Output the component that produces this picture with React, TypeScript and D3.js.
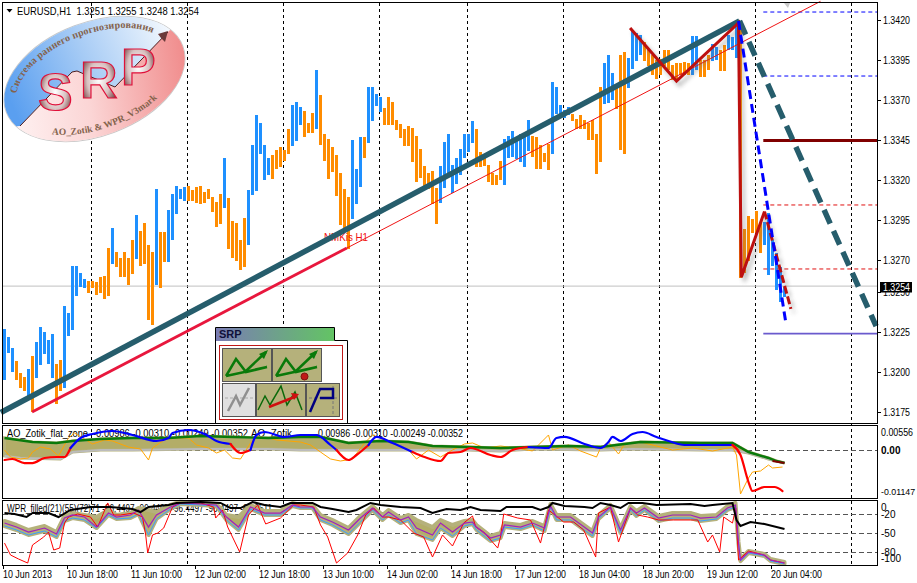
import React from "react";
import * as d3 from "d3";

const W = 917;
const H = 583;

// hourly bodies, 1 bar per hour, leftmost = 10 Jun 2013
const barOpen = [
  1.31953, 1.32122, 1.32003, 1.32072, 1.31997, 1.31972, 1.3184, 1.32103, 1.31965, 1.32047, 1.32115, 1.32053, 1.31965, 1.32053, 1.32078, 1.31903,
  1.32228, 1.32265, 1.32478, 1.32534, 1.32528, 1.32572, 1.32572, 1.32565, 1.32597, 1.32603, 1.32778, 1.32678, 1.32753, 1.32715, 1.32753, 1.32715,
  1.32828, 1.32709, 1.32884, 1.32934, 1.32797, 1.32753, 1.32547, 1.32878, 1.32878, 1.3269, 1.32828, 1.32991, 1.33084, 1.33072, 1.33166, 1.33141,
  1.33159, 1.33166, 1.33128, 1.33147, 1.33097, 1.33065, 1.33116, 1.33028, 1.33091, 1.32947, 1.32934, 1.32828, 1.32966, 1.32797, 1.33109, 1.33134,
  1.33366, 1.33203, 1.33234, 1.33359, 1.33391, 1.33409, 1.33391, 1.33522, 1.33416, 1.33447, 1.33547, 1.33634, 1.33559, 1.33622, 1.33522, 1.33734,
  1.33491, 1.33459, 1.33409, 1.33359, 1.33247, 1.33147, 1.33097, 1.32959, 1.33053, 1.33159, 1.33472, 1.33434, 1.33572, 1.33666, 1.33628, 1.33653,
  1.33722, 1.33691, 1.33578, 1.33553, 1.33522, 1.33541, 1.33528, 1.33478, 1.33397, 1.33291, 1.33247, 1.33259, 1.33153, 1.33059, 1.33153, 1.33234,
  1.33122, 1.33178, 1.33234, 1.33341, 1.33378, 1.33434, 1.33522, 1.33378, 1.33341, 1.33297, 1.33247, 1.33234, 1.33322, 1.33172, 1.33341, 1.33347,
  1.33334, 1.33316, 1.33284, 1.33384, 1.33478, 1.33472, 1.33422, 1.33372, 1.33428, 1.33366, 1.33616, 1.33609, 1.33591, 1.33609, 1.33616, 1.33584,
  1.33609, 1.33578, 1.33559, 1.33578, 1.33491, 1.33784, 1.33678, 1.33684, 1.33703, 1.33803, 1.33984, 1.34003, 1.33778, 1.33897, 1.33947, 1.33984,
  1.34066, 1.34016, 1.33984, 1.33953, 1.33959, 1.34016, 1.34016, 1.33922, 1.33934, 1.33934, 1.33941, 1.33934, 1.33859, 1.33891, 1.33953, 1.33953,
  1.33984, 1.33947, 1.33953, 1.34016, 1.34047, 1.34016, 1.34016, 1.33966, 1.3419, 1.32897, 1.32978, 1.32959, 1.33009, 1.32934, 1.32797, 1.32609,
  1.32665, 1.32516, 1.32441, 1.32472,
];
const barClose = [
  1.32272, 1.32222, 1.32153, 1.31953, 1.31903, 1.31884, 1.32022, 1.31753, 1.3219, 1.32284, 1.32253, 1.32203, 1.3224, 1.31803, 1.31884, 1.32415,
  1.32372, 1.32665, 1.32665, 1.32622, 1.32584, 1.32497, 1.32528, 1.32484, 1.32497, 1.32459, 1.32478, 1.32903, 1.32659, 1.32597, 1.32597, 1.32547,
  1.32615, 1.32984, 1.32665, 1.32678, 1.32328, 1.32297, 1.33147, 1.32528, 1.3269, 1.33015, 1.33116, 1.33166, 1.33147, 1.33159, 1.33072, 1.33072,
  1.33059, 1.33053, 1.33059, 1.33084, 1.33003, 1.32909, 1.32928, 1.33341, 1.32772, 1.32715, 1.32697, 1.3264, 1.32659, 1.33141, 1.33422, 1.33609,
  1.33559, 1.33422, 1.33341, 1.33209, 1.33272, 1.33284, 1.33322, 1.33366, 1.33672, 1.33691, 1.33659, 1.33472, 1.33497, 1.33497, 1.33891, 1.33422,
  1.33322, 1.33209, 1.33253, 1.33103, 1.32922, 1.32878, 1.32772, 1.33453, 1.33272, 1.33472, 1.33341, 1.33784, 1.33784, 1.33741, 1.33722, 1.33547,
  1.33547, 1.33547, 1.33516, 1.33466, 1.33416, 1.33416, 1.33316, 1.33191, 1.33216, 1.33147, 1.33147, 1.33053, 1.32928, 1.33291, 1.33441, 1.33491,
  1.33297, 1.33341, 1.33397, 1.33491, 1.33491, 1.33572, 1.33284, 1.33284, 1.33291, 1.33191, 1.33172, 1.33172, 1.33203, 1.33459, 1.33478, 1.33509,
  1.33459, 1.33491, 1.33491, 1.33578, 1.33347, 1.33272, 1.33272, 1.33316, 1.33266, 1.33816, 1.33784, 1.33672, 1.33641, 1.33659, 1.33572, 1.33522,
  1.33522, 1.33522, 1.33453, 1.33453, 1.33241, 1.33316, 1.33934, 1.33984, 1.33872, 1.33647, 1.33391, 1.33366, 1.33966, 1.3414, 1.34122, 1.34109,
  1.33947, 1.33916, 1.33859, 1.33834, 1.33859, 1.33916, 1.33891, 1.33828, 1.33828, 1.33859, 1.33859, 1.33859, 1.34103, 1.34103, 1.33847, 1.33847,
  1.33891, 1.34053, 1.34034, 1.33884, 1.33884, 1.34109, 1.34097, 1.3419, 1.3259, 1.32622, 1.32697, 1.32872, 1.32872, 1.32747, 1.32941, 1.32997,
  1.32828, 1.32747, 1.32659, 1.32534,
];

const priceTicks = [1.342, 1.3395, 1.337, 1.3345, 1.332, 1.3295, 1.327, 1.325, 1.3225, 1.32, 1.3175];
const dayBars = [22, 46, 70, 94, 116, 140, 164, 188, 212];
const timeTickBars = [0, 16, 32, 48, 64, 80, 96, 112, 128, 144, 160, 176, 192];
const timeLabels = ["10 Jun 2013", "10 Jun 18:00", "11 Jun 10:00", "12 Jun 02:00", "12 Jun 18:00", "13 Jun 10:00", "14 Jun 02:00", "14 Jun 18:00", "17 Jun 12:00", "18 Jun 04:00", "18 Jun 20:00", "19 Jun 12:00", "20 Jun 04:00"];

// drawn objects: [bar, price]
const trendThickBars = [-0.9, 183.75];
const trendThickPrices = [1.3175, 1.34197];
const projectionBars = [183.75, 217.9];
const projectionPrices = [1.34197, 1.3229];
const trendRayBars = [6.9, 85.6, 204];
const trendRayPrices = [1.31753, 1.32778, 1.3432];
const zigzagBars = [156.4, 168, 183.5, 184.2, 190];
const zigzagPrices = [1.34153, 1.33822, 1.34185, 1.32596, 1.33006];
const zigzagTailBars = [190, 196.6];
const zigzagTailPrices = [1.33006, 1.32397];
const blueDashBars = [183.5, 195.4];
const blueDashPrices = [1.34197, 1.323];
const levelStartBar = 189.7;
const levelsBlue = [1.34253, 1.33853];
const levelDarkRed = 1.3345;
const levelsRed = [1.33047, 1.32647];
const levelSlate = 1.32243;
const lastPrice = 1.3254;

// AO panel
const aoGreenBars = [0, 7, 13, 17, 24, 32, 41, 49, 57, 66, 74, 79, 86, 94, 101, 107, 116, 124, 132, 141, 149, 157, 159, 174, 182, 186, 191, 193, 195];
const aoGreen = [0.00286, 0.0019, 0.00167, 0.00214, 0.00262, 0.00286, 0.00286, 0.00333, 0.0031, 0.00286, 0.0031, 0.0031, 0.00167, 0.00214, 0.0019, 0.00095, 0.00071, 0.00048, 0.00071, 0.00095, 0.00071, 0.00167, 0.0019, 0.00167, 0.00167, -0.00048, -0.0019, -0.00262, -0.0031];
const aoGrayBars = [0, 4, 14, 17, 24, 32, 49, 66, 74, 91, 107, 116, 124, 132, 149, 157, 174, 182, 186, 191, 195];
const aoGray = [-0.00143, -0.0019, -0.00214, -0.00048, 0, 0, 0.00024, 0.00024, 0, 0, 0, 0, -0.00024, 0.00024, 0, 0.00024, 0, 0, -0.00071, -0.00214, -0.0031];
const aoMainBars = [0, 2, 5, 7, 10, 13, 15, 16.5, 19, 22, 27, 32, 38, 41, 42, 46, 50, 53, 56.5, 59, 61.5, 63, 65, 70, 74, 78, 81.5, 83, 86, 88, 91, 93, 97, 102, 105, 109, 111, 114, 116.5, 121.5, 124, 127, 131, 136, 138, 140, 145, 149, 151, 152, 154, 157, 159.5, 163, 166, 170, 182, 184, 186, 187, 190, 192.5, 194.5];
const aoMain = [-0.00238, -0.00214, -0.0031, -0.0031, -0.0019, -0.00167, -0.00167, 0.00048, 0.00286, 0.00381, 0.00452, 0.00357, 0.00214, 0.00286, 0.00405, 0.00476, 0.00381, 0.00214, 0.00143, -0.00071, 0, 0.00357, 0.00428, 0.0031, 0.00357, 0.00357, 0.00119, 0, -0.00238, -0.00119, 0.00119, 0.0031, 0.00167, -0.00048, -0.00167, -0.00262, -0.00071, -0.00048, 0.00048, -0.00119, -0.00167, 0, 0.00071, 0.00048, 0.00286, 0.0031, 0.00143, 0.00048, 0.0019, 0.0031, 0.00214, 0.00381, 0.00428, 0.0031, 0.00214, 0.00119, 0.00119, -0.00119, -0.00762, -0.00976, -0.00881, -0.00881, -0.00976];
const aoThinBars = [0, 1.5, 4, 6, 7, 9, 11.5, 13.5, 15, 16, 17.5, 20, 22, 25, 27, 31, 34, 36, 37, 41, 43, 46, 48, 51, 53, 55, 57, 59, 61.5, 63, 66, 68, 74, 76.5, 79, 81.5, 84, 87, 90, 92, 95, 98, 101, 103, 106, 109, 112, 115, 117, 120, 124, 128, 132, 136, 137, 141, 144, 148, 149, 151, 153.5, 155, 159, 163, 167, 172, 177, 182, 183, 184, 186, 187, 189, 191, 192, 194.5];
const aoThin = [0, -0.00167, -0.00214, -0.0019, -0.00048, 0.00071, 0.00024, -0.00143, 0.00119, 0.00286, 0.00405, 0.00262, 0.00143, 0.00238, 0.00214, 0.00071, 0.00024, -0.00238, 0.00048, 0.0031, 0.00286, 0.00286, 0.00119, 0.00048, -0.00071, 0, -0.0019, -0.00214, 0.00167, 0.0031, 0.00286, 0.00238, 0.0019, 0.00119, -0.00048, -0.00214, -0.00262, -0.00214, 0.00167, 0.00357, 0.00238, 0.00119, 0, -0.00214, 0, -0.00167, 0, 0.00143, 0.00167, 0.00048, 0.00095, 0.00048, -0.00024, 0.00357, 0, 0.00119, -0.00024, -0.00167, 0.00048, 0.0019, -0.00095, 0.00143, 0.0019, 0.00095, 0, 0.00048, -0.00024, 0.00071, -0.00119, -0.01047, -0.00666, -0.00524, -0.005, -0.00357, -0.00428, -0.00405];
const aoTailBars = [192, 195];
const aoTail = [-0.00262, -0.0031];

// WPR panel
const wprBlackBars = [0, 2.5, 5.5, 7, 11, 13.5, 16.5, 21.5, 26.5, 32, 34, 36, 41, 43, 49, 54, 56.5, 59, 62, 65, 69, 71.5, 74, 77, 79, 82, 86, 88, 91.5, 94, 99, 104, 107, 110.5, 114, 116.5, 119, 124, 125.5, 132, 134, 136, 137, 140, 145, 147, 149, 151.5, 154, 156, 159.5, 163, 171.5, 175, 177, 182, 183, 184, 186.5, 190, 193, 195];
const wprBlack = [-17.9, -19.4, -24.2, -17.9, -17.9, -24.2, -13.1, -8.4, -8.4, -11.5, -16.3, -8.4, -5.2, -2, -0.5, -2, -10, -10, -0.5, -5.2, -8.4, -2, -2, -2, -8.4, -11.5, -16.3, -13.1, -2, -5.2, -8.4, -10, -17.9, -11.5, -13.1, -8.4, -13.1, -14.7, -8.4, -8.4, -13.1, -8.4, -2, -6.8, -8.4, -10, -2, -5.2, -10, -2, -2, -5.2, -3.6, -6.8, -5.2, -2, -28.9, -38.4, -32.1, -35.2, -40, -43.1];
const wprMidBars = [0, 3, 6, 10, 13, 15, 17, 20, 23, 26, 28, 31.5, 33.5, 36, 38, 41.5, 44, 49, 53, 55.5, 58.5, 61.5, 65, 69, 72, 74, 77, 79, 82, 86, 89, 92, 94.5, 96, 99, 101, 103, 107, 109, 112, 115, 117, 118, 121.5, 124, 125, 129, 132, 135, 136.5, 138, 141.5, 147, 148.5, 151.5, 154, 156.5, 158, 160, 163.5, 167, 171.5, 174, 178, 180.75, 182.75, 183.5, 184, 186, 190, 191.5, 195];
const wprPurple = [-33.7, -40, -47.9, -41.6, -51, -25.8, -21, -24.2, -40, -17.9, -24.2, -21, -13.1, -40, -21, -8.4, -2, -3.6, -5.2, -24.2, -40, -8.4, -17.9, -17.9, -5.2, -8.4, -8.4, -24.2, -32.1, -44.7, -25.8, -10, -24.2, -16.3, -28.9, -24.2, -41.6, -52.6, -33.7, -47.9, -33.7, -32.1, -40, -57.4, -52.6, -36.8, -40, -33.7, -41.6, -6.8, -24.2, -24.2, -49.5, -24.2, -8.4, -44.7, -10, -17.9, -10, -25.8, -21, -21, -25.8, -24.2, -10, -5.2, -65.3, -92.1, -79.5, -84.2, -92.1, -96.9];
const wprBlue = [-38.4, -44.7, -52.6, -46.3, -55.8, -30.5, -25.8, -28.9, -41.6, -21, -27.3, -25.8, -19.4, -52.6, -27.3, -11.5, -3.6, -5.2, -6.8, -28.9, -44.7, -11.5, -21, -21, -6.8, -10, -10, -28.9, -36.8, -51, -32.1, -13.1, -28.9, -21, -33.7, -28.9, -51, -60.5, -41.6, -54.2, -38.4, -35.2, -44.7, -62.1, -57.4, -40, -43.1, -36.8, -46.3, -8.4, -28.9, -28.9, -54.2, -27.3, -10, -49.5, -13.1, -22.6, -13.1, -30.5, -25.8, -25.8, -30.5, -27.3, -13.1, -8.4, -66.8, -93.7, -81, -85.8, -93.7, -98.4];
const wprTop = [-30.5, -36.8, -44.7, -38.4, -47.9, -22.6, -17.9, -21, -24.2, -13.1, -21, -17.9, -10, -13.1, -16.3, -5.2, 0, -2, -3.6, -21, -24.2, -5.2, -14.7, -14.7, -2, -5.2, -5.2, -21, -28.9, -41.6, -22.6, -6.8, -21, -13.1, -25.8, -21, -28.9, -40, -28.9, -36.8, -30.5, -28.9, -36.8, -54.2, -49.5, -33.7, -36.8, -30.5, -38.4, -3.6, -21, -21, -46.3, -21, -5.2, -41.6, -6.8, -14.7, -6.8, -22.6, -17.9, -17.9, -22.6, -21, -6.8, -2, -63.7, -90.5, -77.9, -82.6, -90.5, -95.3];
const wprRedBars = [0, 1.5, 3.5, 5.8, 7, 9.8, 11, 12.3, 13.8, 15, 16, 18.3, 21.5, 23.3, 25.8, 27.3, 29, 32.3, 34.5, 35.3, 35.8, 37, 38.3, 39.8, 42, 44, 49, 52.3, 52.8, 54.5, 55.8, 58.8, 61, 63.3, 65.3, 69, 72.3, 74, 77.3, 79, 80.8, 83, 85.8, 88.3, 90.3, 92.3, 94.5, 96, 99, 102.3, 104.8, 107, 109.5, 112, 114.8, 117, 117.8, 119.8, 123.3, 124, 124.8, 128.3, 131.5, 134, 136, 139.8, 142.3, 144.8, 147.8, 148.5, 151.5, 153.5, 156.5, 158.3, 160.8, 163.5, 167.3, 171.5, 173.3, 175.8, 177, 178.8, 179.8, 182, 182.8, 183.5, 186, 189.8, 191.5, 195];
const wprRed = [-65.3, -84.2, -90.5, -96.9, -68.4, -55.8, -47.9, -76.3, -73.2, -33.7, -24.2, -19.4, -24.2, -40, -2, -21, -21, -17.9, -24.2, -52.6, -81, -52.6, -49.5, -41.6, -8.4, -2, -2, -8.4, -25.8, -13.1, -40, -79.5, -21, -5.2, -35.2, -25.8, -5.2, -5.2, -8.4, -36.8, -55.8, -96.9, -81, -52.6, -21, -10, -24.2, -24.2, -28.9, -49.5, -55.8, -87.4, -52.6, -70, -33.7, -22.6, -40, -47.9, -73.2, -55.8, -19.4, -25.8, -28.9, -65.3, -13.1, -32.1, -32.1, -44.7, -87.4, -17.9, -8.4, -63.7, -10, -21, -24.2, -28.9, -28.9, -28.9, -28.9, -63.7, -52.6, -79.5, -24.2, -33.7, -10, -92.1, -77.9, -84.2, -92.1, -96.9];

const priceTitle = "EURUSD,H1  1.3251 1.3255 1.3248 1.3254";
const aoName = "AO_Zotik_flat_zone";
const aoShortName = "AO_Zotik";
const aoBuffers = "-0.00986 -0.00310 -0.00249 -0.00352";
const wprLabel = "WPR_filled(21)(55)(72)71 -96.4497 -96.4497 -96.4497 -96.4497 -63.3511";

const FONT = "'Liberation Sans', Arial, sans-serif";
const PLOT_L = 3;
const PLOT_R = 877;

const x = d3.scaleLinear().domain([0, 195]).range([4.5, 784.5]);
const yPrice = d3.scaleLinear().domain([1.342, 1.3175]).range([20.5, 412.5]);
const yAo = d3.scaleLinear().domain([0, -0.01147]).range([450, 498.2]);
const yWpr = d3.scaleLinear().domain([0, -100]).range([501.7, 565]);

function path(bars: number[], vals: number[], y: (v: number) => number, smooth = false) {
  const pts = bars.map((b, i) => [x(b), y(vals[i])] as [number, number]);
  const gen = d3.line();
  if (smooth) gen.curve(d3.curveMonotoneX);
  return gen(pts) ?? "";
}

function bandPath(barsA: number[], valsA: number[], barsB: number[], valsB: number[], y: (v: number) => number) {
  const top = barsA.map((b, i) => [x(b), y(valsA[i])] as [number, number]);
  const bottom = barsB.map((b, i) => [x(b), y(valsB[i])] as [number, number]).reverse();
  return (d3.line()([...top, ...bottom]) ?? "") + "Z";
}

// the AO line changes colour by level: cut it in runs of one colour
function aoRuns() {
  const runs: { low: boolean; from: number; to: number }[] = [];
  for (let i = 1; i < aoMain.length; i++) {
    const low = (aoMain[i - 1] + aoMain[i]) / 2 < 0.0004;
    const last = runs[runs.length - 1];
    if (last && last.low === low) last.to = i;
    else runs.push({ low, from: i - 1, to: i });
  }
  return runs;
}

// MetaTrader's labels are narrower than Liberation at this height
function Fit({ len, ...rest }: any) {
  return <text textLength={len} lengthAdjust="spacingAndGlyphs" {...rest} />;
}

function Logo() {
  const cx = 94.5;
  const cy = 79;
  const zig = "20,126 72,72 77,71 115,87 168,32";
  return (
    <g>
      <defs>
        <clipPath id="logoClip">
          <ellipse cx={cx} cy={cy} rx={94} ry={56.5} transform={`rotate(-20.6 ${cx} ${cy})`} />
        </clipPath>
        <linearGradient id="logoBlue" x1="0" x2="1" y1="0.6" y2="0.3">
          <stop offset="0" stopColor="#5a9ff0" />
          <stop offset="0.45" stopColor="#a6cbf5" />
          <stop offset="1" stopColor="#ffffff" />
        </linearGradient>
        <linearGradient id="logoPink" x1="0" x2="1" y1="0.5" y2="0.4">
          <stop offset="0" stopColor="#fff4f4" />
          <stop offset="0.45" stopColor="#fbd5d5" />
          <stop offset="1" stopColor="#f08a8a" />
        </linearGradient>
        <radialGradient id="logoGlyph" cx="0.5" cy="0.5" r="0.62">
          <stop offset="0" stopColor="#ffffff" />
          <stop offset="0.5" stopColor="#d8c0c0" />
          <stop offset="1" stopColor="#4a1010" />
        </radialGradient>
        <path id="logoTop" d={`M${cx - 82},${cy} A82,45 0 0 1 ${cx + 82},${cy}`} transform={`rotate(-20.6 ${cx} ${cy})`} />
        <path id="logoBottom" d={`M${cx - 87},${cy} A87,50 0 0 0 ${cx + 87},${cy}`} transform={`rotate(-20.6 ${cx} ${cy})`} />
      </defs>
      <ellipse cx={cx} cy={cy} rx={94.3} ry={56.8} fill="#fff" stroke="#c8c8c8" strokeWidth={1} transform={`rotate(-20.6 ${cx} ${cy})`} />
      <g clipPath="url(#logoClip)">
        <polygon points={`${zig} 190,10 190,0 0,0 0,130`} fill="url(#logoBlue)" />
        <polygon points={`${zig} 190,10 190,150 0,150 0,130`} fill="url(#logoPink)" />
      </g>
      <polyline points={zig} fill="none" stroke="#4a1c20" strokeWidth={1} />
      <path d="M168,31 L158,34 L161,38 L165,42Z" fill="#6a3a3a" />
      <text fontFamily="'Liberation Serif', serif" fontWeight="bold" fontSize={10} fill="#84624c" letterSpacing={0.15}>
        <textPath href="#logoTop" startOffset="7%">Система раннего прогнозирования</textPath>
      </text>
      <text fontFamily="'Liberation Serif', serif" fontWeight="bold" fontSize={9.5} fill="#84624c">
        <textPath href="#logoBottom" startOffset="22%">AO_Zotik &amp; WPR_V3mark</textPath>
      </text>
      <g fontFamily={FONT} fontWeight="bold" fontSize={52} fill="url(#logoGlyph)" stroke="#e0103a" strokeWidth={1.2}>
        <text x={38} y={110}>S</text>
        <text x={80} y={98}>R</text>
        <text x={121} y={85}>P</text>
      </g>
    </g>
  );
}

function Widget() {
  const olive = "#b5b17b";
  const btn = (bx: number, by: number, bw: number, bh: number, fill = olive) => (
    <rect x={bx + 0.5} y={by + 0.5} width={bw} height={bh} fill={fill} stroke="#555" strokeWidth={1} />
  );
  return (
    <g>
      <defs>
        <linearGradient id="srpTitle" x1="0" x2="1" y1="0" y2="0">
          <stop offset="0" stopColor="#7a7cb4" />
          <stop offset="1" stopColor="#63c464" />
        </linearGradient>
      </defs>
      <path d="M215.5,423 V327.5 H334.5 V340.5 H347.5 V423" fill="#fff" stroke="#000" strokeWidth={1} />
      <rect x={216} y={328} width={118} height={13} fill="url(#srpTitle)" />
      <text x={219} y={338} fontFamily={FONT} fontSize={11} fontWeight="bold" fill="#10103a">SRP</text>
      <rect x={219.5} y={345.5} width={123} height={74} fill="#fff" stroke="#c01818" strokeWidth={1} />
      {btn(222, 348, 49, 33)}
      {btn(272, 348, 49, 33)}
      {btn(222, 383, 33, 33, "#e0e0e0")}
      {btn(256, 383, 49, 33)}
      {btn(306, 383, 33, 33)}
      <g fill="none" stroke="#0a7a0a" strokeWidth={2.5}>
        <path d="M226,376 L236,359 L246,372 L267,367 M226,376 L267,367" />
        <path d="M246,371 L266,352" />
        <path d="M276,376 L286,359 L296,372 L317,367 M276,376 L317,367" />
        <path d="M296,371 L316,352" />
      </g>
      <path d="M268,350 L259,354 L264,359Z M318,350 L309,354 L314,359Z" fill="#0a7a0a" />
      <circle cx={304.5} cy={376.5} r={3.5} fill="#c01818" stroke="#801010" />
      <path d="M225,398 H253" stroke="#aaa" strokeDasharray="3 2" />
      <path d="M228,411 L236,396 L240,405 L249,388" fill="none" stroke="#909090" strokeWidth={2.5} />
      <path d="M258,410 L265,396 L270,405 L281,386 L287,405 L295,392 L302,410" fill="none" stroke="#0a6a0a" strokeWidth={1.5} />
      <path d="M269,407 L297,396" stroke="#d01010" strokeWidth={2.5} />
      <path d="M299,394 L291,393 L294,400Z" fill="#d01010" />
      <path d="M309,398 H338 M333,386 V415" stroke="#777" strokeDasharray="3 2" />
      <path d="M310,412 L320,389 H333 V398 H320" fill="none" stroke="#000080" strokeWidth={2.5} />
    </g>
  );
}

export default function App() {
  const line = (bars: number[], vals: number[]) => path(bars, vals, yPrice);

  return (
    <svg width={W} height={H} style={{ position: "fixed", left: 0, top: 0, background: "#fff" }}>
      <defs>
        <filter id="soft" x="-30%" y="-30%" width="160%" height="160%">
          <feGaussianBlur stdDeviation="2" />
        </filter>
      </defs>

      {/* day separators */}
      <g stroke="#000" strokeWidth={1} strokeDasharray="3 3" shapeRendering="crispEdges">
        {dayBars.map((b) => (
          <line key={b} x1={x(b) - 1} x2={x(b) - 1} y1={3} y2={565} />
        ))}
      </g>

      {/* zero / level grid in the sub windows */}
      <g stroke="#555" strokeDasharray="5 3" shapeRendering="crispEdges">
        <line x1={PLOT_L} x2={PLOT_R} y1={yAo(0)} y2={yAo(0)} />
        {[-20, -50, -80].map((v) => (
          <line key={v} x1={PLOT_L} x2={PLOT_R} y1={yWpr(v)} y2={yWpr(v)} />
        ))}
      </g>

      <line x1={PLOT_L} x2={PLOT_R} y1={yPrice(lastPrice)} y2={yPrice(lastPrice)} stroke="#c0c0c0" strokeWidth={1} />

      {/* candle bodies */}
      <g shapeRendering="crispEdges">
        {barOpen.map((o, i) => {
          const c = barClose[i];
          const top = yPrice(Math.max(o, c));
          return (
            <rect
              key={i}
              x={x(i) - 1.5}
              width={3}
              y={top}
              height={yPrice(Math.min(o, c)) - top}
              fill={c >= o ? "#1e90ff" : "#ff8c00"}
            />
          );
        })}
      </g>

      {/* level lines */}
      <g strokeWidth={1} stroke="#0000ff" strokeDasharray="4 3">
        {levelsBlue.map((p) => (
          <line key={p} x1={x(levelStartBar)} x2={PLOT_R} y1={yPrice(p)} y2={yPrice(p)} />
        ))}
      </g>
      <line x1={x(levelStartBar)} x2={PLOT_R} y1={yPrice(levelDarkRed)} y2={yPrice(levelDarkRed)} stroke="#800000" strokeWidth={3} />
      <g strokeWidth={1} stroke="#e01010" strokeDasharray="4 3">
        {levelsRed.map((p) => (
          <line key={p} x1={x(levelStartBar)} x2={PLOT_R} y1={yPrice(p)} y2={yPrice(p)} />
        ))}
      </g>
      <line x1={x(levelStartBar)} x2={PLOT_R} y1={yPrice(levelSlate)} y2={yPrice(levelSlate)} stroke="#6a5acd" strokeWidth={1.6} />

      <Fit len={44} x={324} y={241} fontFamily={FONT} fontSize={10.5} fill="#f01010">NMKis H1</Fit>
      <path d={line(trendRayBars.slice(1), trendRayPrices.slice(1))} fill="none" stroke="#f01414" strokeWidth={1} />
      <path d={line(trendRayBars.slice(0, 2), trendRayPrices.slice(0, 2))} fill="none" stroke="#e8173d" strokeWidth={2.8} />
      <path d="M784,3 L790,3 L788,8Z" fill="#c8c8c8" />

      {/* thick trend and its projection */}
      <path d={line(trendThickBars, trendThickPrices)} fill="none" stroke="#265d6c" strokeWidth={5.5} />
      <path d={line(projectionBars, projectionPrices)} fill="none" stroke="#265d6c" strokeWidth={5.5} strokeDasharray="15 8" />

      {/* zigzag with soft shadow */}
      <g transform="translate(3,4)" opacity={0.45} filter="url(#soft)">
        <path d={line(zigzagBars, zigzagPrices)} fill="none" stroke="#666" strokeWidth={3} />
        <path d={line(zigzagTailBars, zigzagTailPrices)} fill="none" stroke="#666" strokeWidth={3} strokeDasharray="8 3" />
      </g>
      <path d={line(zigzagBars, zigzagPrices)} fill="none" stroke="#bd1010" strokeWidth={3} />
      <path d={line(zigzagTailBars, zigzagTailPrices)} fill="none" stroke="#bd1010" strokeWidth={3} strokeDasharray="8 3" />
      <path d={line(blueDashBars, blueDashPrices)} fill="none" stroke="#0000ff" strokeWidth={3} strokeDasharray="9 5" />

      <Logo />
      <Widget />

      {/* header */}
      <path d="M6.5,9 H12.5 L9.5,12.5Z" fill="#000" />
      <Fit len={182} x={17} y={14.5} fontFamily={FONT} fontSize={10.5} fill="#000" xmlSpace="preserve">{priceTitle}</Fit>

      {/* AO window */}
      <Fit len={81} x={7} y={437} fontFamily={FONT} fontSize={10} fill="#000">{aoName}</Fit>
      <Fit len={155} x={93} y={437} fontFamily={FONT} fontSize={10} fill="#000">{aoBuffers}</Fit>
      <Fit len={41} x={251} y={437} fontFamily={FONT} fontSize={10} fill="#000">{aoShortName}</Fit>
      <Fit len={148} x={315} y={437} fontFamily={FONT} fontSize={10} fill="#000">{aoBuffers}</Fit>
      <path d={bandPath(aoGreenBars, aoGreen, aoGrayBars, aoGray, yAo)} fill="#b3ad68" stroke="#b5b17b" strokeWidth={3} />
      <path d={path(aoGrayBars, aoGray, yAo)} fill="none" stroke="#bcbcbc" strokeWidth={2} />
      <path d={path(aoThinBars, aoThin, yAo)} fill="none" stroke="#ffa500" strokeWidth={1} />
      <path d={path(aoGreenBars, aoGreen, yAo)} fill="none" stroke="#0a7a0a" strokeWidth={2.4} />
      {aoRuns().map((r) => (
        <path
          key={r.from}
          d={path(aoMainBars.slice(r.from, r.to + 1), aoMain.slice(r.from, r.to + 1), yAo, true)}
          fill="none"
          strokeLinecap="round"
          stroke={r.low ? "#ff0000" : "#0000ff"}
          strokeWidth={2.2}
        />
      ))}
      <path d={path(aoTailBars, aoTail, yAo)} fill="none" stroke="#800000" strokeWidth={2} />

      {/* WPR window */}
      <Fit len={265} x={7} y={512} fontFamily={FONT} fontSize={10} fill="#000">{wprLabel}</Fit>
      <path d={bandPath(wprMidBars, wprTop, wprMidBars, wprBlue, yWpr)} fill="#b3ad68" stroke="#b5b17b" strokeWidth={4} strokeLinejoin="round" />
      <path d={path(wprMidBars, wprBlue, yWpr)} fill="none" stroke="#3aa0ff" strokeWidth={1} />
      <path d={path(wprRedBars, wprRed, yWpr)} fill="none" stroke="#ff0000" strokeWidth={1} />
      <path d={path(wprMidBars, wprPurple, yWpr)} fill="none" stroke="#a020c0" strokeWidth={1.2} />
      <path d={path(wprBlackBars, wprBlack, yWpr)} fill="none" stroke="#000" strokeWidth={2} />

      {/* frames */}
      <g stroke="#000" strokeWidth={1} fill="none" shapeRendering="crispEdges">
        <rect x={2.5} y={2.5} width={875} height={420.5} />
        <rect x={2.5} y={425.5} width={875} height={72.5} />
        <rect x={2.5} y={500.5} width={875} height={64.5} />
      </g>

      {/* price scale */}
      <g fontFamily={FONT} fontSize={10} fill="#000">
        {priceTicks.map((p) => (
          <g key={p}>
            <line x1={PLOT_R} x2={881} y1={yPrice(p)} y2={yPrice(p)} stroke="#000" />
            <Fit len={27} x={883} y={yPrice(p) + 3.5}>{p.toFixed(4)}</Fit>
          </g>
        ))}
        <rect x={880} y={282} width={32} height={10.5} fill="#000" />
        <Fit len={27} x={883} y={291} fill="#fff">{lastPrice.toFixed(4)}</Fit>

        <Fit len={32} x={881} y={436}>0.00556</Fit>
        <text x={881} y={453.5} fontWeight="bold">0.00</text>
        <text x={881} y={495} fontSize={8.8}>-0.01147</text>
        <text x={881} y={510.5}>0</text>
        <text x={881} y={518}>-20</text>
        <text x={881} y={536.5}>-50</text>
        <text x={881} y={555.5}>-80</text>
        <text x={881} y={562}>-100</text>
      </g>

      {/* time scale */}
      <g fontFamily={FONT} fontSize={10} fill="#000">
        {timeTickBars.map((b, i) => (
          <g key={b}>
            <line x1={x(b) - 1} x2={x(b) - 1} y1={565} y2={569} stroke="#000" />
            <Fit len={i === 0 ? 49 : 51} x={x(b) - 1.5} y={578}>{timeLabels[i]}</Fit>
          </g>
        ))}
      </g>
    </svg>
  );
}
